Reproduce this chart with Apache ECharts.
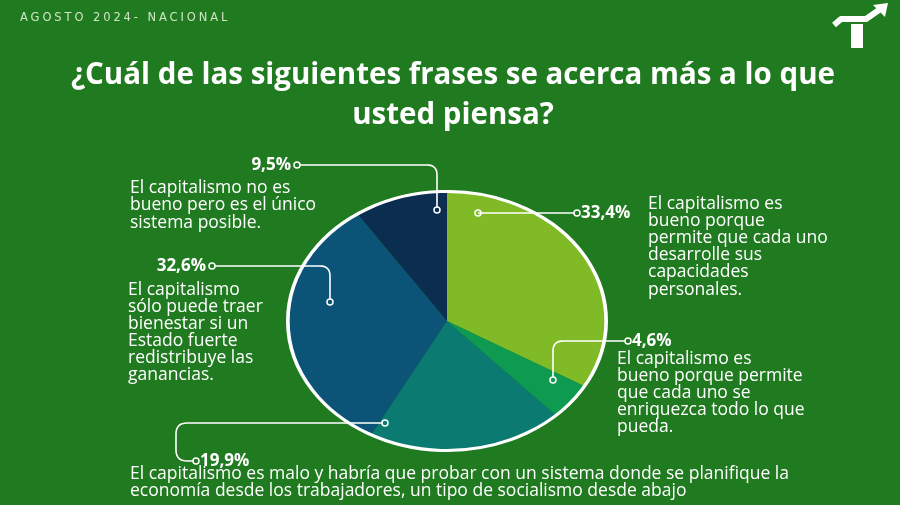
<!DOCTYPE html>
<html><head><meta charset="utf-8">
<script src="https://cdn.jsdelivr.net/npm/echarts@6/dist/echarts.min.js"></script>
<style>
html,body{margin:0;padding:0;background:#207a20;overflow:hidden;width:900px;height:505px}
#pie{position:absolute;left:316px;top:190px;width:262px;height:262px;transform:scaleX(1.229);transform-origin:50% 50%}
#main{position:absolute;left:0;top:0;width:900px;height:505px}
#hdr{position:absolute;left:0;top:0;width:400px;height:34px}
#hdr text{letter-spacing:2.9px}
</style></head><body>
<div id="pie"></div>
<div id="main"></div>
<div id="hdr"></div>
<script>
// ---- data ----
const categories = [
  'El capitalismo es bueno porque permite que cada uno desarrolle sus capacidades personales.',
  'El capitalismo es bueno porque permite que cada uno se enriquezca todo lo que pueda.',
  'El capitalismo es malo y habría que probar con un sistema donde se planifique la economía desde los trabajadores, un tipo de socialismo desde abajo',
  'El capitalismo sólo puede traer bienestar si un Estado fuerte redistribuye las ganancias.',
  'El capitalismo no es bueno pero es el único sistema posible.'
];
const values = [33.4, 4.6, 19.9, 32.6, 9.5];
const sliceColors = ['#80bb27', '#0e9a50', '#0b7b71', '#0b5477', '#0b2d4f'];
const labelTexts = [
  'El capitalismo es\nbueno porque\npermite que cada uno\ndesarrolle sus\ncapacidades\npersonales.',
  'El capitalismo es\nbueno porque permite\nque cada uno se\nenriquezca todo lo que\npueda.',
  'El capitalismo es malo y habría que probar con un sistema donde se planifique la\neconomía desde los trabajadores, un tipo de socialismo desde abajo',
  'El capitalismo\nsólo puede traer\nbienestar si un\nEstado fuerte\nredistribuye las\nganancias.',
  'El capitalismo no es\nbueno pero es el único\nsistema posible.'
];
const pctLabels = values.map(v => v.toFixed(1).replace('.', ',') + '%');
const titleText = '¿Cuál de las siguientes frases se acerca más a lo que\nusted piensa?';
const headerText = 'AGOSTO 2024- NACIONAL';

// ---- pie (own instance, stretched horizontally into an ellipse) ----
const pie = echarts.init(document.getElementById('pie'), null, {renderer: 'svg'});
pie.setOption({
  animation: false,
  backgroundColor: 'transparent',
  series: [{
    type: 'pie',
    center: ['50%', '50%'],
    radius: 130,
    startAngle: 90,
    clockwise: true,
    silent: true,
    label: {show: false},
    labelLine: {show: false},
    itemStyle: {borderWidth: 0},
    data: values.map((v, i) => ({value: v, name: categories[i], itemStyle: {color: sliceColors[i]}}))
  }],
  graphic: [{type: 'circle', shape: {cx: 131, cy: 131, r: 129.5}, style: {fill: 'none', stroke: '#ffffff', lineWidth: 3}, z: 100}]
});

// ---- header (svg so CSS letter-spacing applies) ----
const hdr = echarts.init(document.getElementById('hdr'), null, {renderer: 'svg'});
hdr.setOption({
  animation: false,
  backgroundColor: 'transparent',
  graphic: [{type: 'text', style: {text: headerText, x: 20, y: 11, fill: '#cfe5c6', font: '11.5px "DejaVu Sans", sans-serif', textVerticalAlign: 'top'}}]
});

// ---- annotations ----
const chart = echarts.init(document.getElementById('main'));
const FONT = '"Open Sans", sans-serif';
const W = '#ffffff';

function rounded(pts, r) {
  const out = [pts[0]];
  for (let i = 1; i < pts.length - 1; i++) {
    const p0 = pts[i - 1], p1 = pts[i], p2 = pts[i + 1];
    const d1 = Math.hypot(p1[0] - p0[0], p1[1] - p0[1]);
    const d2 = Math.hypot(p2[0] - p1[0], p2[1] - p1[1]);
    const a = [p1[0] + (p0[0] - p1[0]) * r / d1, p1[1] + (p0[1] - p1[1]) * r / d1];
    const b = [p1[0] + (p2[0] - p1[0]) * r / d2, p1[1] + (p2[1] - p1[1]) * r / d2];
    for (let k = 0; k <= 8; k++) {
      const t = k / 8;
      out.push([
        (1 - t) * (1 - t) * a[0] + 2 * (1 - t) * t * p1[0] + t * t * b[0],
        (1 - t) * (1 - t) * a[1] + 2 * (1 - t) * t * p1[1] + t * t * b[1]
      ]);
    }
  }
  out.push(pts[pts.length - 1]);
  return out;
}
function conn(pts, r) {
  return {type: 'polyline', shape: {points: rounded(pts, r)}, style: {stroke: W, lineWidth: 1.6, fill: null}, z: 10};
}
function ring(x, y) {
  return {type: 'circle', shape: {cx: x, cy: y, r: 3}, style: {fill: 'none', stroke: W, lineWidth: 1.5}, z: 11};
}
function txt(text, x, y, font, opts) {
  return {type: 'text', z: 12, style: Object.assign({text: text, x: x, y: y, fill: W, font: font, textAlign: 'left', textVerticalAlign: 'top'}, opts || {})};
}

const bodyFont = '17.5px ' + FONT;
const pctFont = 'bold 17px ' + FONT;

const elements = [
  // title
  txt(titleText, 453, 56, 'bold 29.5px ' + FONT, {textAlign: 'center', lineHeight: 40}),
  // logo
  {type: 'polyline', shape: {points: [[834, 25], [841, 19], [866, 19], [879, 10]]}, style: {stroke: W, lineWidth: 6, fill: null, lineJoin: 'round'}},
  {type: 'polygon', shape: {points: [[873, 5], [888, 3], [885, 17]]}, style: {fill: W}},
  {type: 'rect', shape: {x: 851, y: 24, width: 12, height: 24}, style: {fill: W}},

  // 33,4%
  conn([[478, 213], [574, 213]], 0), ring(478, 213), ring(577, 213),
  txt(pctLabels[0], 581, 205, pctFont),
  txt(labelTexts[0], 648, 195, bodyFont, {lineHeight: 17.2}),

  // 4,6%
  conn([[625, 341], [553, 341], [553, 377]], 10), ring(553, 380), ring(628, 341),
  txt(pctLabels[1], 632, 333, pctFont),
  txt(labelTexts[1], 617, 351, bodyFont, {lineHeight: 17}),

  // 19,9%
  conn([[382, 423], [176, 423], [176, 461], [193, 461]], 11), ring(385, 423), ring(196, 461),
  txt(pctLabels[2], 200, 453, pctFont),
  txt(labelTexts[2], 130, 466, bodyFont, {lineHeight: 17}),

  // 32,6%
  conn([[215, 266], [330, 266], [330, 299]], 10), ring(330, 302), ring(212, 266),
  txt(pctLabels[3], 206, 258, pctFont, {textAlign: 'right'}),
  txt(labelTexts[3], 128, 282, bodyFont, {lineHeight: 17}),

  // 9,5%
  conn([[300, 165], [437, 165], [437, 207]], 10), ring(437, 210), ring(297, 165),
  txt(pctLabels[4], 291, 157, pctFont, {textAlign: 'right'}),
  txt(labelTexts[4], 130, 179, bodyFont, {lineHeight: 17.5})
];

chart.setOption({
  animation: false,
  backgroundColor: 'transparent',
  graphic: {elements: elements}
});
</script>
</body></html>
